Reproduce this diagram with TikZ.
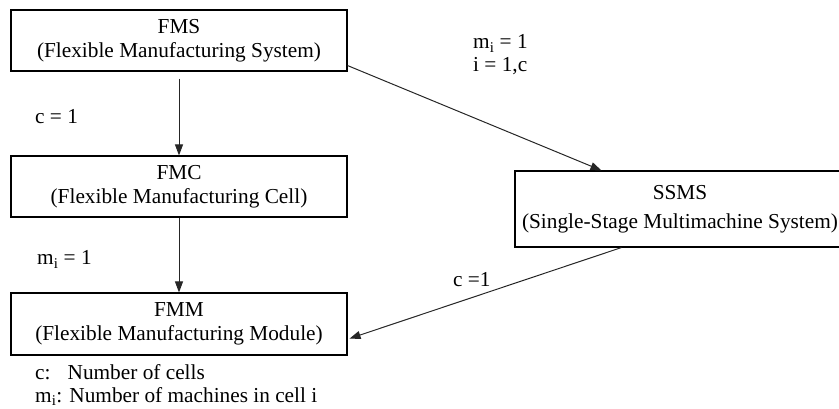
\documentclass[tikz,border=0pt]{standalone}
\usepackage{fontspec}
\setmainfont{Liberation Serif}
\usetikzlibrary{arrows.meta}
\begin{document}
\begin{tikzpicture}[x=1pt,y=-1pt,
  box/.style={draw, line width=1.1pt, inner sep=0pt, align=center,
    font=\fontsize{21.3}{24.5}\selectfont},
  lbl/.style={anchor=base west, inner sep=0pt, font=\fontsize{21.3}{24}\selectfont},
  conn/.style={line width=1pt, draw=black!85, -{Triangle[length=11pt,width=8pt]}}]
\useasboundingbox (0,0) rectangle (839,409);
\node[box, minimum width=336pt, minimum height=61pt] (fms) at (179,40.5)
  {FMS\\(Flexible Manufacturing System)};
\node[box, minimum width=336pt, minimum height=61pt] (fmc) at (179,186.5)
  {FMC\\(Flexible Manufacturing Cell)};
\node[box, minimum width=336pt, minimum height=62pt] (fmm) at (179,324)
  {FMM\\(Flexible Manufacturing Module)};
\node[box, minimum width=330pt, minimum height=76pt] (ssms) at (680,209)
  {SSMS\\[4pt](Single-Stage Multimachine System)};
\draw[conn, shorten <=7pt] (fms.south) -- (fmc.north);
\draw[conn] (fmc.south) -- (fmm.north);
\draw[conn] ([yshift=6pt]fms.south east) -- ([xshift=87pt]ssms.north west);
\draw[conn] ([xshift=107pt]ssms.south west) -- ([shift={(2pt,17pt)}]fmm.south east);
\node[lbl] (l1) at (35,124) {c = 1};
\node[lbl] (l2) at (37,265) {m\textsubscript{i} = 1};
\node[lbl] (l3) at (473,49) {m\textsubscript{i} = 1};
\node[lbl] (l4) at (473,72) {i = 1,c};
\node[lbl] (l5) at (453,287) {c =1};
\node[lbl] (leg1) at (35,379) {\makebox[0pt][l]{c:}\hphantom{m\textsubscript{i}:} Number of cells};
\node[lbl] (leg2) at (35,402) {m\textsubscript{i}: Number of machines in cell i};
\end{tikzpicture}
\end{document}
